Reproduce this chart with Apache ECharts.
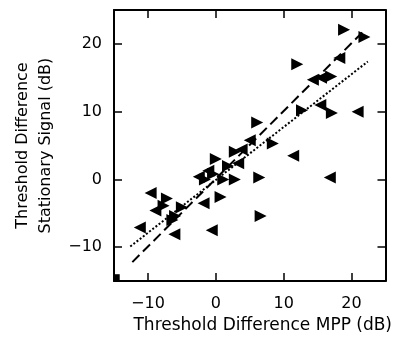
<!DOCTYPE html>
<html>
<head>
<meta charset="utf-8">
<script src="https://cdn.jsdelivr.net/npm/echarts@6/dist/echarts.min.js"></script>
<style>html,body{margin:0;padding:0;background:#fff}#c{width:395px;height:339px}</style>
</head>
<body>
<div id="c"></div>
<script>
// Data
var leftPointing = [
  [18.2, 17.9], [14.3, 14.7], [15.5, 15.0], [15.4, 11.0], [20.9, 10.0],
  [5.0, 5.8], [11.4, 3.5], [3.8, 4.4], [3.3, 2.4], [16.8, 0.3],
  [-9.6, -2.0], [-8.9, -4.6], [-1.8, -3.5], [-11.2, -7.1], [-6.1, -8.1],
  [-0.6, -7.5], [-1.1, 1.3], [-2.5, 0.4]
];
var rightPointing = [
  [18.9, 22.1], [21.9, 21.0], [12.0, 17.0], [17.0, 15.2], [12.7, 10.2],
  [17.1, 9.8], [6.1, 8.4], [8.4, 5.3], [2.8, 4.1], [0.0, 3.0],
  [1.8, 2.0], [1.1, 0.0], [2.8, 0.0], [6.4, 0.3], [0.7, -2.6],
  [6.6, -5.4], [-7.2, -2.8], [-7.7, -3.9], [-5.0, -4.1], [-6.0, -5.4],
  [-6.4, -6.0], [-0.4, 0.8], [-1.6, 0.0]
];
var cornerMark = [[-14.6, -14.5]];
var dashedFit = [[-12.3, -12.2], [21.9, 22.0]];
var dottedFit = [[-12.6, -9.9], [22.4, 17.4]];
var tickValues = [-10, 0, 10, 20];
var xName = 'Threshold Difference MPP (dB)';
var yName = 'Threshold Difference\nStationary Signal (dB)';

var FONT = 'DejaVu Sans';
function fmt(v) { return String(v).replace('-', '\u2212'); }
function axisBase(extra) {
  var a = {
    type: 'value', min: -15, max: 25,
    axisLine: { show: true, onZero: false, lineStyle: { color: '#000', width: 2 } },
    axisTick: { show: true, inside: true, length: 8, customValues: tickValues, lineStyle: { color: '#000', width: 1.5 } },
    splitLine: { show: false },
    axisLabel: { show: false }
  };
  for (var k in extra) a[k] = extra[k];
  return a;
}

var chart = echarts.init(document.getElementById('c'));
chart.setOption({
  animation: false,
  backgroundColor: '#fff',
  grid: { left: 114, right: 8, top: 10, bottom: 55 },
  xAxis: [
    axisBase({
      position: 'bottom',
      name: xName, nameLocation: 'middle', nameGap: 28,
      nameTextStyle: { fontFamily: FONT, fontSize: 17, color: '#000', padding: [0, 0, 0, 26] },
      axisLabel: { show: true, customValues: tickValues, formatter: fmt, margin: 15,
        fontFamily: FONT, fontSize: 16, color: '#000' }
    }),
    axisBase({ position: 'top' })
  ],
  yAxis: [
    axisBase({
      position: 'left',
      name: yName, nameLocation: 'middle', nameGap: 55,
      nameTextStyle: { fontFamily: FONT, fontSize: 16, color: '#000', lineHeight: 23 },
      axisLabel: { show: true, customValues: tickValues, formatter: fmt, margin: 12,
        fontFamily: FONT, fontSize: 16, color: '#000' }
    }),
    axisBase({ position: 'right' })
  ],
  series: [
    { type: 'line', data: dashedFit, symbol: 'none',
      lineStyle: { color: '#000', width: 2, type: [10, 5] }, z: 2 },
    { type: 'line', data: dottedFit, symbol: 'none',
      lineStyle: { color: '#000', width: 2, type: [2, 2] }, z: 2 },
    { type: 'scatter', data: leftPointing, symbol: 'triangle', symbolRotate: 90,
      symbolSize: 12, itemStyle: { color: '#000', opacity: 1 }, z: 3 },
    { type: 'scatter', data: rightPointing, symbol: 'triangle', symbolRotate: -90,
      symbolSize: 12, itemStyle: { color: '#000', opacity: 1 }, z: 3 },
    { type: 'scatter', data: cornerMark, symbol: 'rect', symbolSize: [6, 7],
      itemStyle: { color: '#000', opacity: 1 }, z: 3 }
  ]
});
</script>
</body>
</html>
